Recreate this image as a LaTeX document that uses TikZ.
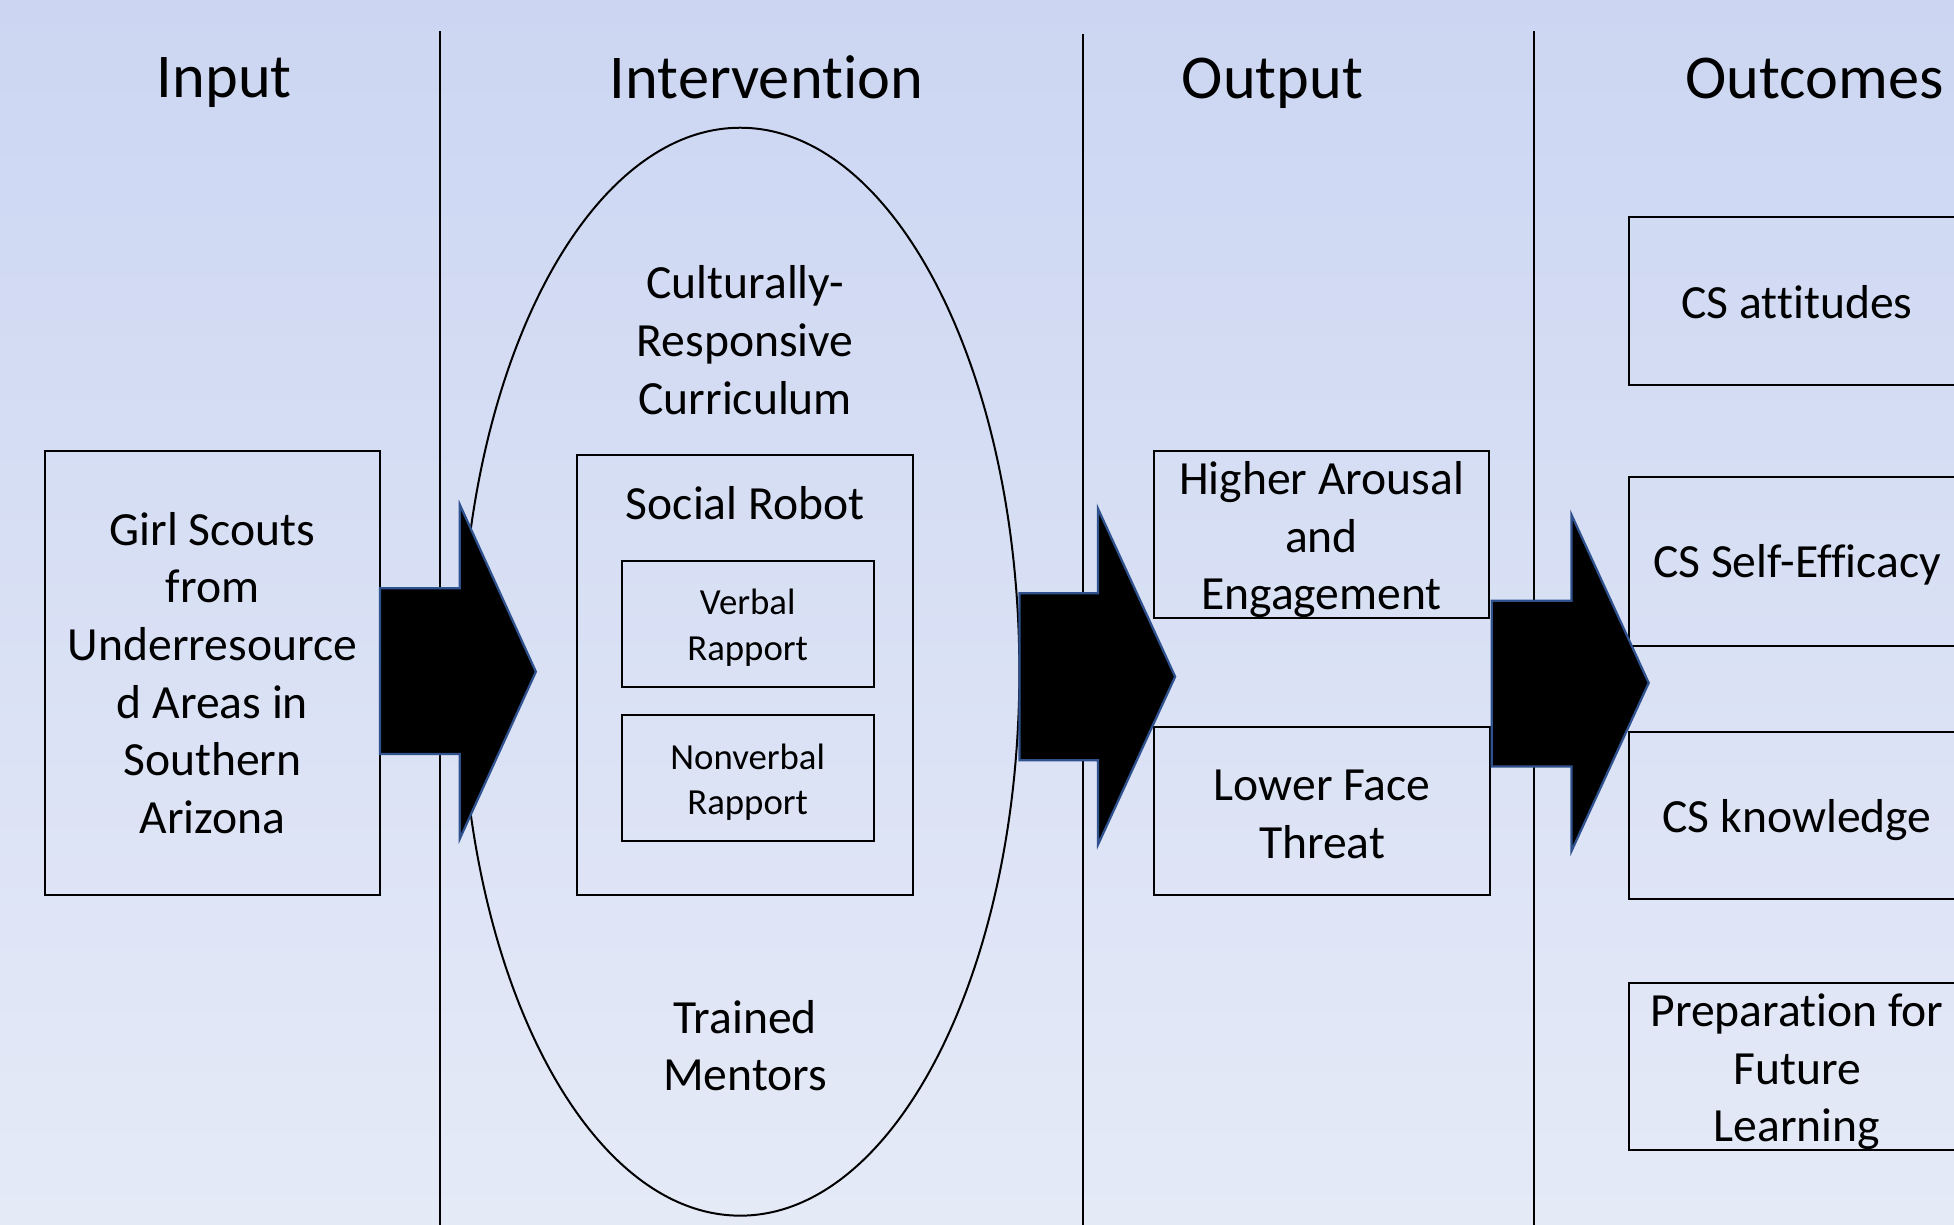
\documentclass[tikz,border=0pt]{standalone}
\usepackage{fontspec}
\setmainfont{Carlito}[Ligatures=NoCommon]
\usetikzlibrary{shapes.geometric}
\definecolor{bgtop}{RGB}{204,214,242}
\definecolor{bgbot}{RGB}{229,234,247}
\definecolor{arrowedge}{RGB}{47,82,143}
\begin{document}
\begin{tikzpicture}[x=1pt,y=-1pt,
  title/.style={font=\fontsize{50}{60}\selectfont, inner sep=0pt, anchor=base},
  body/.style={font=\fontsize{38.2}{46.3}\selectfont, align=center, inner sep=0pt},
  small/.style={font=\fontsize{29.5}{36.5}\selectfont, align=center, inner sep=0pt},
  box/.style={draw=black, line width=1.6pt, inner sep=0pt},
  divider/.style={draw=black, line width=1pt},
  blockarrow/.style={fill=black, draw=arrowedge, line width=1.8pt, line join=miter}]
\useasboundingbox (0,0) rectangle (1568,983);
\clip (0,0) rectangle (1568,983);
\shade[top color=bgtop,bottom color=bgbot] (0,0) rectangle (1568,983);

% column dividers
\coordinate (d1t) at (353,25);  \coordinate (d1b) at (353,990);
\coordinate (d2t) at (869,27);  \coordinate (d2b) at (869,990);
\coordinate (d3t) at (1231,25); \coordinate (d3b) at (1231,990);
\draw[divider] (d1t) -- (d1b);
\draw[divider] (d2t) -- (d2b);
\draw[divider] (d3t) -- (d3b);

% titles
\node[title] (tin)  at (180,78)  {Input};
\node[title] (tint) at (615,79)  {Intervention};
\node[title] (tout) at (1021,79) {Output};
\node[title] (toc)  at (1456,79) {Outcomes};

% input
\node[box, minimum width=269pt, minimum height=356pt] (input) at (170.5,540) {};
\node[body] (inputtxt) at (input.center) {Girl Scouts\\from\\Underresource\\d Areas in\\Southern\\Arizona};

% intervention
\node[ellipse, draw=black, line width=1.6pt, minimum width=448pt, minimum height=873pt, inner sep=0pt] (interv) at (594,539) {};
\node[body] (curr) at (598,273) {Culturally-\\Responsive\\Curriculum};
\node[box, minimum width=270pt, minimum height=353pt] (robot) at (598,541.5) {};
\node[body] (robotlbl) at (598,404) {Social Robot};
\node[box, minimum width=202pt, minimum height=101pt] (verbal) at (600,500.5) {};
\node[small] (verbaltxt) at ([yshift=-3pt]verbal.center) {Verbal\\Rapport};
\node[box, minimum width=202pt, minimum height=101pt] (nonverbal) at (600,624.5) {};
\node[small] (nonverbaltxt) at ([yshift=-3pt]nonverbal.center) {Nonverbal\\Rapport};
\node[body] (mentors) at (598,839) {Trained\\Mentors};

% output
\node[box, minimum width=269pt, minimum height=134pt] (arousal) at (1060.5,429) {};
\node[body] (arousaltxt) at ([yshift=-4pt]arousal.center) {Higher Arousal\\and\\Engagement};
\node[box, minimum width=270pt, minimum height=135pt] (face) at (1061,650.5) {};
\node[body] (facetxt) at ([yshift=-3pt]face.center) {Lower Face\\Threat};

% outcomes
\node[box, minimum width=270pt, minimum height=135pt] (att) at (1442,241.5) {};
\node[body] (atttxt) at ([yshift=-1pt]att.center) {CS attitudes};
\node[box, minimum width=270pt, minimum height=135pt] (eff) at (1442,450.5) {};
\node[body] (efftxt) at ([yshift=-3pt]eff.center) {CS Self-Efficacy};
\node[box, minimum width=270pt, minimum height=134pt] (know) at (1442,654) {};
\node[body] (knowtxt) at ([yshift=-4pt]know.center) {CS knowledge};
\node[box, minimum width=270pt, minimum height=134pt] (prep) at (1442,856) {};
\node[body] (preptxt) at ([yshift=-4pt]prep.center) {Preparation for\\Future\\Learning};

% block arrows
\draw[blockarrow] (305,472) -- (369,472) -- (369,405) -- (430,539) -- (369,673) -- (369,605) -- (305,605) -- cycle;
\draw[blockarrow] (818,476) -- (881,476) -- (881,408) -- (943,543) -- (881,678) -- (881,610) -- (818,610) -- cycle;
\draw[blockarrow] (1197,482) -- (1261,482) -- (1261,413) -- (1323,548) -- (1261,683) -- (1261,615) -- (1197,615) -- cycle;
\end{tikzpicture}
\end{document}
